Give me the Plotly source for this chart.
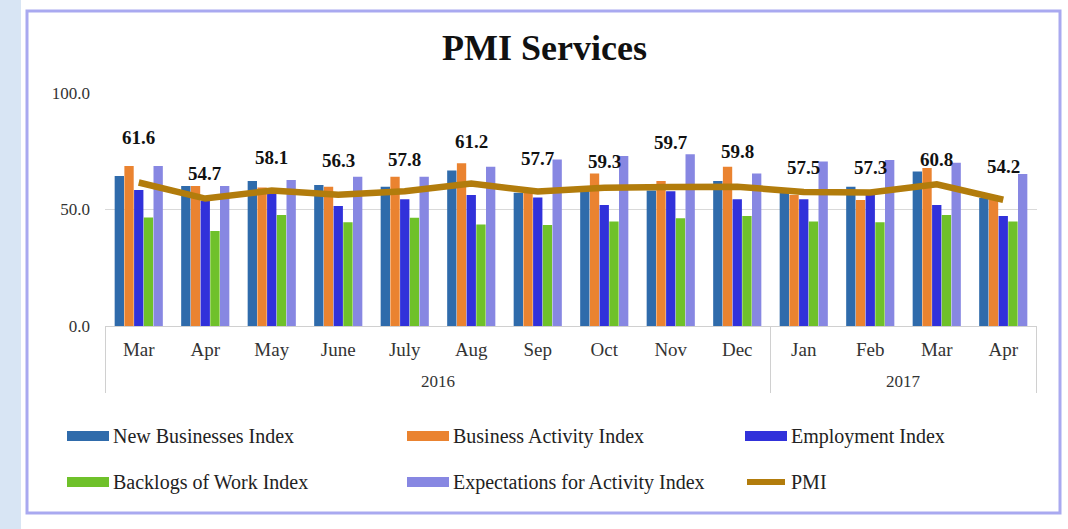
import plotly.graph_objects as go

months = ["Mar", "Apr", "May", "June", "July", "Aug", "Sep", "Oct", "Nov", "Dec",
          "Jan", "Feb", "Mar", "Apr"]
years = ["2016"] * 10 + ["2017"] * 4

new_business = [64.4, 60.1, 62.2, 60.5, 59.8, 66.7, 57.2, 60.1, 58.2, 62.2, 57.7, 59.8, 66.3, 54.9]
business_activity = [68.7, 60.1, 59.4, 59.8, 64.1, 69.8, 58.4, 65.5, 62.2, 68.4, 56.2, 54.1, 67.8, 54.1]
employment = [58.4, 53.6, 57.2, 51.5, 54.4, 56.2, 55.2, 51.9, 57.8, 54.4, 54.4, 56.2, 51.9, 47.2]
backlogs = [46.6, 40.8, 47.6, 44.5, 46.5, 43.6, 43.3, 44.8, 46.2, 47.2, 44.8, 44.5, 47.6, 44.8]
expectations = [68.7, 60.1, 62.7, 64.1, 64.1, 68.4, 71.5, 73.0, 73.7, 65.5, 70.6, 71.2, 70.1, 65.2]
pmi = [61.6, 54.7, 58.1, 56.3, 57.8, 61.2, 57.7, 59.3, 59.7, 59.8, 57.5, 57.3, 60.8, 54.2]

series_names = ["New Businesses Index", "Business Activity Index", "Employment Index",
                "Backlogs of Work Index", "Expectations for Activity Index"]
series_values = [new_business, business_activity, employment, backlogs, expectations]
series_colors = ["#2f6bab", "#ea8330", "#3131da", "#6fc12a", "#8787e2"]
pmi_color = "#b27c0c"

# label vertical offsets (px) above the PMI line
label_shift = [45, 25, 33, 34, 32, 42, 33, 26, 44, 35, 25, 25, 25, 33]

W, H = 1068, 529
L, R, T, B = 105, 1037, 93, 326  # plot area in pixels

def px(x):
    return (x - L) / (R - L)

def py(y):
    return (B - y) / (B - T)

SERIF = "Liberation Serif"
TXT = "#333333"

xkeys = [f"{m} {y}" for m, y in zip(months, years)]

fig = go.Figure()
for name, vals, col in zip(series_names, series_values, series_colors):
    fig.add_trace(go.Bar(x=xkeys, y=vals, name=name, marker=dict(color=col, line=dict(width=0)),
                         showlegend=False))
fig.add_trace(go.Scatter(x=xkeys, y=pmi, name="PMI", mode="lines",
                         line=dict(color=pmi_color, width=6.5), showlegend=False))

annotations = []
for i, (v, s) in enumerate(zip(pmi, label_shift)):
    annotations.append(dict(x=xkeys[i], y=v, xref="x", yref="y", text=f"<b>{v:.1f}</b>", showarrow=False,
                            yshift=s, font=dict(family=SERIF, size=19, color="#111111")))

# title
annotations.append(dict(x=px(544), y=py(48), xref="paper", yref="paper", text="<b>PMI Services</b>",
                        xanchor="center", yanchor="middle",
                        showarrow=False, font=dict(family=SERIF, size=36, color="#111111")))

shapes = []
# year group labels and dividers (from the years list)
groups = []
for i, y in enumerate(years):
    if not groups or groups[-1][0] != y:
        groups.append([y, i, i])
    else:
        groups[-1][2] = i
for y, i0, i1 in groups:
    annotations.append(dict(x=(i0 + i1) / 2, y=py(381), xref="x", yref="paper", text=y,
                            showarrow=False, xanchor="center", yanchor="middle",
                            font=dict(family=SERIF, size=17, color=TXT)))
    for xd in (i0 - 0.5, i1 + 0.5):
        shapes.append(dict(type="line", xref="x", yref="paper", x0=xd, x1=xd, y0=py(326), y1=py(393),
                           line=dict(color="#d0d0d0", width=1)))

# left light strip
shapes.append(dict(type="rect", xref="paper", yref="paper", x0=px(0), x1=px(21), y0=py(0), y1=py(529),
                   fillcolor="#d8e5f4", line=dict(width=0), layer="below"))
# frame
shapes.append(dict(type="rect", xref="paper", yref="paper", x0=px(27), x1=px(1060), y0=py(11), y1=py(513),
                   fillcolor="rgba(0,0,0,0)", line=dict(color="#a9a9f0", width=3), layer="below"))

# manual legend
legend_items = list(zip(series_names, series_colors)) + [("PMI", pmi_color)]
col_x = [67, 407, 745]
row_y = [436, 482]
for k, (name, col) in enumerate(legend_items):
    r, c = divmod(k, 3)
    x0, yc = col_x[c], row_y[r]
    if name == "PMI":
        shapes.append(dict(type="line", xref="paper", yref="paper", x0=px(x0 + 2), x1=px(x0 + 40),
                           y0=py(yc), y1=py(yc), line=dict(color=col, width=6)))
    else:
        shapes.append(dict(type="rect", xref="paper", yref="paper", x0=px(x0), x1=px(x0 + 42),
                           y0=py(yc - 5), y1=py(yc + 5), fillcolor=col, line=dict(width=0)))
    annotations.append(dict(x=px(x0 + 44), y=py(yc), xref="paper", yref="paper", text=name,
                            showarrow=False, xanchor="left", yanchor="middle",
                            font=dict(family=SERIF, size=20, color="#222222")))

fig.update_layout(
    width=W, height=H,
    margin=dict(l=L, r=W - R, t=T, b=H - B),
    paper_bgcolor="white", plot_bgcolor="white",
    barmode="group", bargap=0.27, bargroupgap=0.04,
    showlegend=False,
    annotations=annotations, shapes=shapes,
    xaxis=dict(type="category", showline=True, linecolor="#d0d0d0", linewidth=1,
               tickvals=xkeys, ticktext=months, ticks="", ticklabelstandoff=6,
               tickfont=dict(family=SERIF, size=19, color=TXT), showgrid=False),
    yaxis=dict(range=[0, 100], tickvals=[0, 50, 100], tickformat=".1f", showgrid=True,
               gridcolor="#d9d9d9", gridwidth=1, zeroline=False, showline=False,
               ticks="", ticklabelstandoff=14,
               tickfont=dict(family=SERIF, size=17, color=TXT)),
)

fig.write_html("out.html", config={"displayModeBar": False},
               post_script="document.body.style.margin='0';document.body.style.overflow='hidden';")
